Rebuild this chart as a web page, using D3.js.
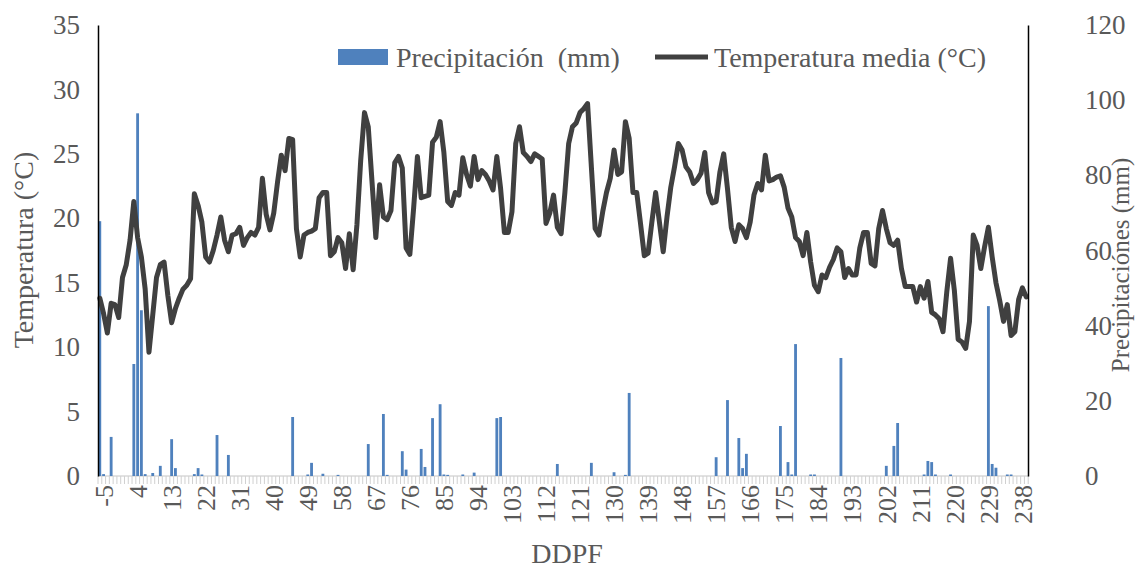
<!DOCTYPE html>
<html>
<head>
<meta charset="utf-8">
<script src="https://cdn.jsdelivr.net/npm/d3@7"></script>
<style>
  body { margin: 0; background: #fff; }
  svg { display: block; font-family: "Liberation Serif", "Times New Roman", serif; }
  .lbl { fill: #595959; font-size: 28px; }
  .tl { fill: #595959; font-size: 27px; }
  .xl { fill: #595959; font-size: 26px; }
</style>
</head>
<body>
<svg id="chart" width="1136" height="568"></svg>
<script>
// categories: DDPF from -5 to 240
var days = d3.range(-5, 241);
var tickDays = d3.range(-5, 241, 9);

// mean daily temperature (°C), one value per day, -5 .. 240
var temp = [
        13.8, 12.6, 11.1, 13.4, 13.3, 12.3, 15.4, 16.4, 18.3, 21.3,   // -5..4
        18.5, 17.0, 14.5,  9.6, 12.5, 15.4, 16.4, 16.6, 14.0, 11.9,   // 5..14
        13.0, 13.8, 14.5, 14.8, 15.3, 21.9, 21.0, 19.7, 17.0, 16.6,   // 15..24
        17.5, 18.7, 20.1, 18.3, 17.4, 18.7, 18.8, 19.3, 17.9, 18.5,   // 25..34
        18.9, 18.7, 19.3, 23.1, 20.3, 19.1, 20.4, 22.8, 24.9, 23.7,   // 35..44
        26.2, 26.1, 19.2, 17.0, 18.7, 18.9, 19.0, 19.2, 21.6, 22.0,   // 45..54
        22.0, 17.1, 17.4, 18.5, 18.1, 16.1, 18.8, 16.0, 19.5, 24.5,   // 55..64
        28.2, 27.1, 22.8, 18.5, 22.6, 20.1, 19.9, 20.6, 24.3, 24.8,   // 65..74
        23.9, 17.7, 17.2, 20.8, 24.8, 21.6, 21.7, 21.8, 25.9, 26.3,   // 75..84
        27.5, 25.1, 21.3, 21.0, 22.0, 21.8, 24.7, 23.4, 22.5, 24.8,   // 85..94
        23.0, 23.7, 23.4, 22.9, 22.2, 24.8, 22.3, 18.9, 18.9, 20.5,   // 95..104
        25.8, 27.1, 25.1, 24.8, 24.4, 25.0, 24.8, 24.6, 19.6, 20.4,   // 105..114
        21.8, 19.3, 18.8, 22.0, 25.8, 27.1, 27.4, 28.2, 28.5, 28.9,   // 115..124
        24.0, 19.2, 18.7, 20.5, 22.0, 23.1, 25.3, 23.4, 23.6, 27.5,   // 125..134
        26.2, 22.0, 22.0, 19.6, 17.1, 17.3, 19.7, 22.0, 19.7, 17.4,   // 135..144
        20.1, 22.4, 24.0, 25.8, 25.3, 24.0, 23.6, 22.7, 23.0, 23.5,   // 145..154
        25.1, 22.0, 21.2, 21.3, 23.6, 25.0, 22.3, 19.3, 18.2, 19.5,   // 155..164
        19.2, 18.5, 19.7, 21.8, 22.7, 22.2, 24.9, 22.9, 23.0, 23.2,   // 165..174
        23.3, 22.4, 20.8, 20.1, 18.5, 18.2, 17.1, 18.9, 16.6, 14.8,   // 175..184
        14.3, 15.6, 15.4, 16.2, 16.8, 17.7, 17.4, 15.4, 16.1, 15.6,   // 185..194
        15.6, 17.7, 18.9, 18.9, 16.5, 16.3, 19.2, 20.6, 19.2, 18.1,   // 195..204
        17.9, 18.3, 16.1, 14.7, 14.7, 14.7, 13.5, 14.7, 13.8, 15.1,   // 205..214
        12.7, 12.5, 12.2, 11.2, 14.3, 16.9, 14.4, 10.6, 10.4,  9.9,   // 215..224
        12.0, 18.7, 17.9, 16.1, 17.8, 19.3, 17.0, 15.0, 13.6, 12.0,   // 225..234
        13.3, 10.9, 11.2, 13.7, 14.6, 13.9                            // 235..240
];

// precipitation (mm), only the days with rain
var rainDays = [-5, -4, -2, 4, 5, 6, 7, 9, 11, 14, 15, 20, 21, 22, 26, 29,
        46, 50, 51, 54, 58, 66, 70, 71, 75, 76, 80, 81, 83, 85, 86, 87, 91, 94,
        100, 101, 116, 125, 131, 134, 135, 158, 161, 164, 165, 166, 175, 177,
        178, 179, 183, 184, 191, 203, 205, 206, 213, 214, 215, 216, 220, 230,
        231, 232, 235, 236];
var rainMm = [67.8, 0.5, 10.4, 29.8, 96.5, 44.1, 0.5, 0.8, 2.7, 9.8, 2.1, 0.5, 2.1, 0.4, 10.9, 5.6,
        15.7, 0.4, 3.5, 0.6, 0.3, 8.5, 16.5, 0.3, 6.6, 1.7, 7.2, 2.4, 15.4, 19.1, 0.4, 0.3, 0.4, 0.9,
        15.4, 15.7, 3.2, 3.5, 1.0, 0.3, 22.1, 5.0, 20.2, 10.1, 2.1, 5.9, 13.3, 3.7,
        0.4, 35.1, 0.4, 0.4, 31.4, 2.7, 8.0, 14.1, 0.4, 4.0, 3.7, 0.4, 0.4, 45.2,
        3.2, 2.2, 0.4, 0.4];

var tempTicks = [0, 5, 10, 15, 20, 25, 30, 35];
var rainTicks = [0, 20, 40, 60, 80, 100, 120];

var plotLeft = 98, plotRight = 1028, plotTop = 25, plotBottom = 476;

var svg = d3.select("#chart");

var x = d3.scaleBand().domain(days).range([plotLeft, plotRight]).paddingInner(0.25).paddingOuter(0.1);
var yT = d3.scaleLinear().domain([0, 35]).range([plotBottom, plotTop]);
var yP = d3.scaleLinear().domain([0, 120]).range([plotBottom, plotTop]);

// x axis: light grey line with a tick between each category
var xAxis = svg.append("g")
        .attr("transform", "translate(0," + plotBottom + ")");
xAxis.append("line")
        .attr("x1", plotLeft).attr("x2", plotRight)
        .attr("stroke", "#d9d9d9").attr("stroke-width", 1.5);
var step = x.step();
xAxis.selectAll(".tk")
        .data(d3.range(days.length + 1))
        .enter().append("line")
        .attr("x1", function(i) { return plotLeft + i * step; })
        .attr("x2", function(i) { return plotLeft + i * step; })
        .attr("y1", 0).attr("y2", 8)
        .attr("stroke", "#d0d0d0").attr("stroke-width", 1);

xAxis.selectAll(".xl")
        .data(tickDays)
        .enter().append("text")
        .attr("class", "xl")
        .attr("text-anchor", "end")
        .attr("transform", function(d) {
                return "translate(" + (x(d) + x.bandwidth() / 2) + ",9) rotate(-90)";
        })
        .attr("dy", "0.5em")
        .text(function(d) { return d; });

// bars
svg.append("g").selectAll("rect")
        .data(rainDays)
        .enter().append("rect")
        .attr("x", function(d) { return x(d); })
        .attr("width", x.bandwidth())
        .attr("y", function(d, i) { return yP(rainMm[i]); })
        .attr("height", function(d, i) { return plotBottom - yP(rainMm[i]); })
        .attr("fill", "#4f81bd");

// temperature line
var line = d3.line()
        .x(function(d, i) { return x(days[i]) + x.bandwidth() / 2; })
        .y(function(d) { return yT(d); });

svg.append("path")
        .datum(temp)
        .attr("d", line)
        .attr("fill", "none")
        .attr("stroke", "#404040")
        .attr("stroke-width", 5)
        .attr("stroke-linejoin", "round")
        .attr("stroke-linecap", "round");

// left & right axes
var la = svg.append("g")
        .attr("transform", "translate(" + plotLeft + ",0)")
        .call(d3.axisLeft(yT).tickValues(tempTicks).tickSize(0).tickPadding(18));
var ra = svg.append("g")
        .attr("transform", "translate(" + plotRight + ",0)")
        .call(d3.axisRight(yP).tickValues(rainTicks).tickSize(0).tickPadding(57));
[la, ra].forEach(function(a) {
        a.attr("font-family", null).attr("font-size", null);
        a.select(".domain").attr("stroke", "#000").attr("stroke-width", 1.5);
        a.selectAll("text").attr("class", "tl");
});

// axis titles
svg.append("text").attr("class", "lbl")
        .attr("transform", "translate(33,250) rotate(-90)")
        .attr("text-anchor", "middle")
        .text("Temperatura (°C)");
svg.append("text").attr("class", "lbl")
        .attr("transform", "translate(1129,265) rotate(-90)")
        .attr("text-anchor", "middle")
        .style("font-size", "25px")
        .text("Precipitaciónes (mm)");
svg.append("text").attr("class", "lbl")
        .attr("x", 567).attr("y", 563)
        .attr("text-anchor", "middle")
        .text("DDPF");

// legend
var lg = svg.append("g");
lg.append("rect").attr("x", 338).attr("y", 49).attr("width", 50).attr("height", 16).attr("fill", "#4f81bd");
lg.append("text").attr("class", "lbl").attr("x", 396).attr("y", 67)
        .style("white-space", "pre").text("Precipitación  (mm)");
lg.append("line").attr("x1", 655).attr("x2", 708).attr("y1", 57).attr("y2", 57)
        .attr("stroke", "#404040").attr("stroke-width", 5);
lg.append("text").attr("class", "lbl").attr("x", 714).attr("y", 67)
        .text("Temperatura media (°C)");
</script>
</body>
</html>
